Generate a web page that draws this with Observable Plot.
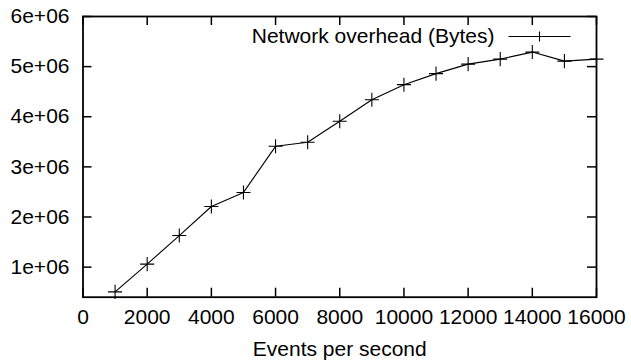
<!DOCTYPE html>
<html>
<head>
<meta charset="utf-8">
<script src="https://cdn.jsdelivr.net/npm/d3@7"></script>
<script src="https://cdn.jsdelivr.net/npm/@observablehq/plot@0.6"></script>
<style>
  html, body { margin: 0; padding: 0; background: #fff; }
  #chart svg { display: block; }
</style>
</head>
<body>
<div id="chart"></div>
<script>
// ---- data ----
const eventsPerSecond = [1000, 2000, 3000, 4000, 5000, 6000, 7000, 8000, 9000, 10000, 11000, 12000, 13000, 14000, 15000, 16000];
const overheadBytes = [506000, 1060000, 1630000, 2210000, 2490000, 3410000, 3490000, 3910000, 4340000, 4640000, 4860000, 5050000, 5150000, 5290000, 5110000, 5150000];
const xTicks = [0, 2000, 4000, 6000, 8000, 10000, 12000, 14000, 16000];
const xTickLabels = ["0", "2000", "4000", "6000", "8000", "10000", "12000", "14000", "16000"];
const yTicks = [1000000, 2000000, 3000000, 4000000, 5000000, 6000000];
const yTickLabels = ["1e+06", "2e+06", "3e+06", "4e+06", "5e+06", "6e+06"];
const xLabel = "Events per second";
const seriesName = "Network overhead (Bytes)";

const data = eventsPerSecond.map((x, i) => ({x, y: overheadBytes[i]}));

// ---- layout ----
const W = 631, H = 362;
const mL = 82.5, mR = 35, mT = 16, mB = 65.3;
const innerW = W - mL - mR, innerH = H - mT - mB;
const tickLen = 9;
const FS = 21;
const font = "'Liberation Sans', Arial, Helvetica, sans-serif";

const legendSymbol = {
  draw(ctx) {
    ctx.moveTo(-31, 0); ctx.lineTo(31, 0);
    ctx.moveTo(0, -5); ctx.lineTo(0, 5);
  }
};

const chart = Plot.plot({
  width: W,
  height: H,
  marginLeft: mL,
  marginRight: mR,
  marginTop: mT,
  marginBottom: mB,
  style: {fontFamily: font, fontSize: FS + "px", color: "#000", background: "#fff"},
  x: {domain: [0, 16000]},
  y: {domain: [400000, 6000000]},
  marks: [
    // inward tick marks on all four sides
    Plot.tickX(xTicks, {x: d => d, insetTop: innerH - tickLen, stroke: "#000", strokeWidth: 1.5}),
    Plot.tickX(xTicks, {x: d => d, insetBottom: innerH - tickLen, stroke: "#000", strokeWidth: 1.5}),
    Plot.tickY(yTicks, {y: d => d, insetRight: innerW - tickLen, stroke: "#000", strokeWidth: 1.5}),
    Plot.tickY(yTicks, {y: d => d, insetLeft: innerW - tickLen, stroke: "#000", strokeWidth: 1.5}),
    Plot.axisX(xTicks, {tickSize: 0, tickPadding: 12, tickFormat: d => xTickLabels[xTicks.indexOf(d)], fontSize: FS, label: null}),
    Plot.axisY(yTicks, {tickSize: 0, tickPadding: 13.5, tickFormat: d => yTickLabels[yTicks.indexOf(d)], fontSize: FS, label: null}),
    Plot.text([xLabel], {text: d => d, frameAnchor: "bottom", dy: 52, lineAnchor: "middle", fontSize: FS, fill: "#000"}),
    // series
    Plot.line(data, {x: "x", y: "y", stroke: "#000", strokeWidth: 1.1}),
    Plot.dot(data, {x: "x", y: "y", symbol: "plus", r: 4.6, stroke: "#000", strokeWidth: 1.1}),
    // legend
    Plot.text([seriesName], {text: d => d, frameAnchor: "top-right", dx: -102, dy: 20, textAnchor: "end", lineAnchor: "middle", fontSize: FS, fill: "#000"}),
    Plot.dot([seriesName], {frameAnchor: "top-right", dx: -57, dy: 20, symbol: legendSymbol, r: 5, stroke: "#000", fill: "none", strokeWidth: 1.1}),
    Plot.frame({stroke: "#000", strokeWidth: 1.8})
  ]
});

document.getElementById("chart").appendChild(chart);
</script>
</body>
</html>
